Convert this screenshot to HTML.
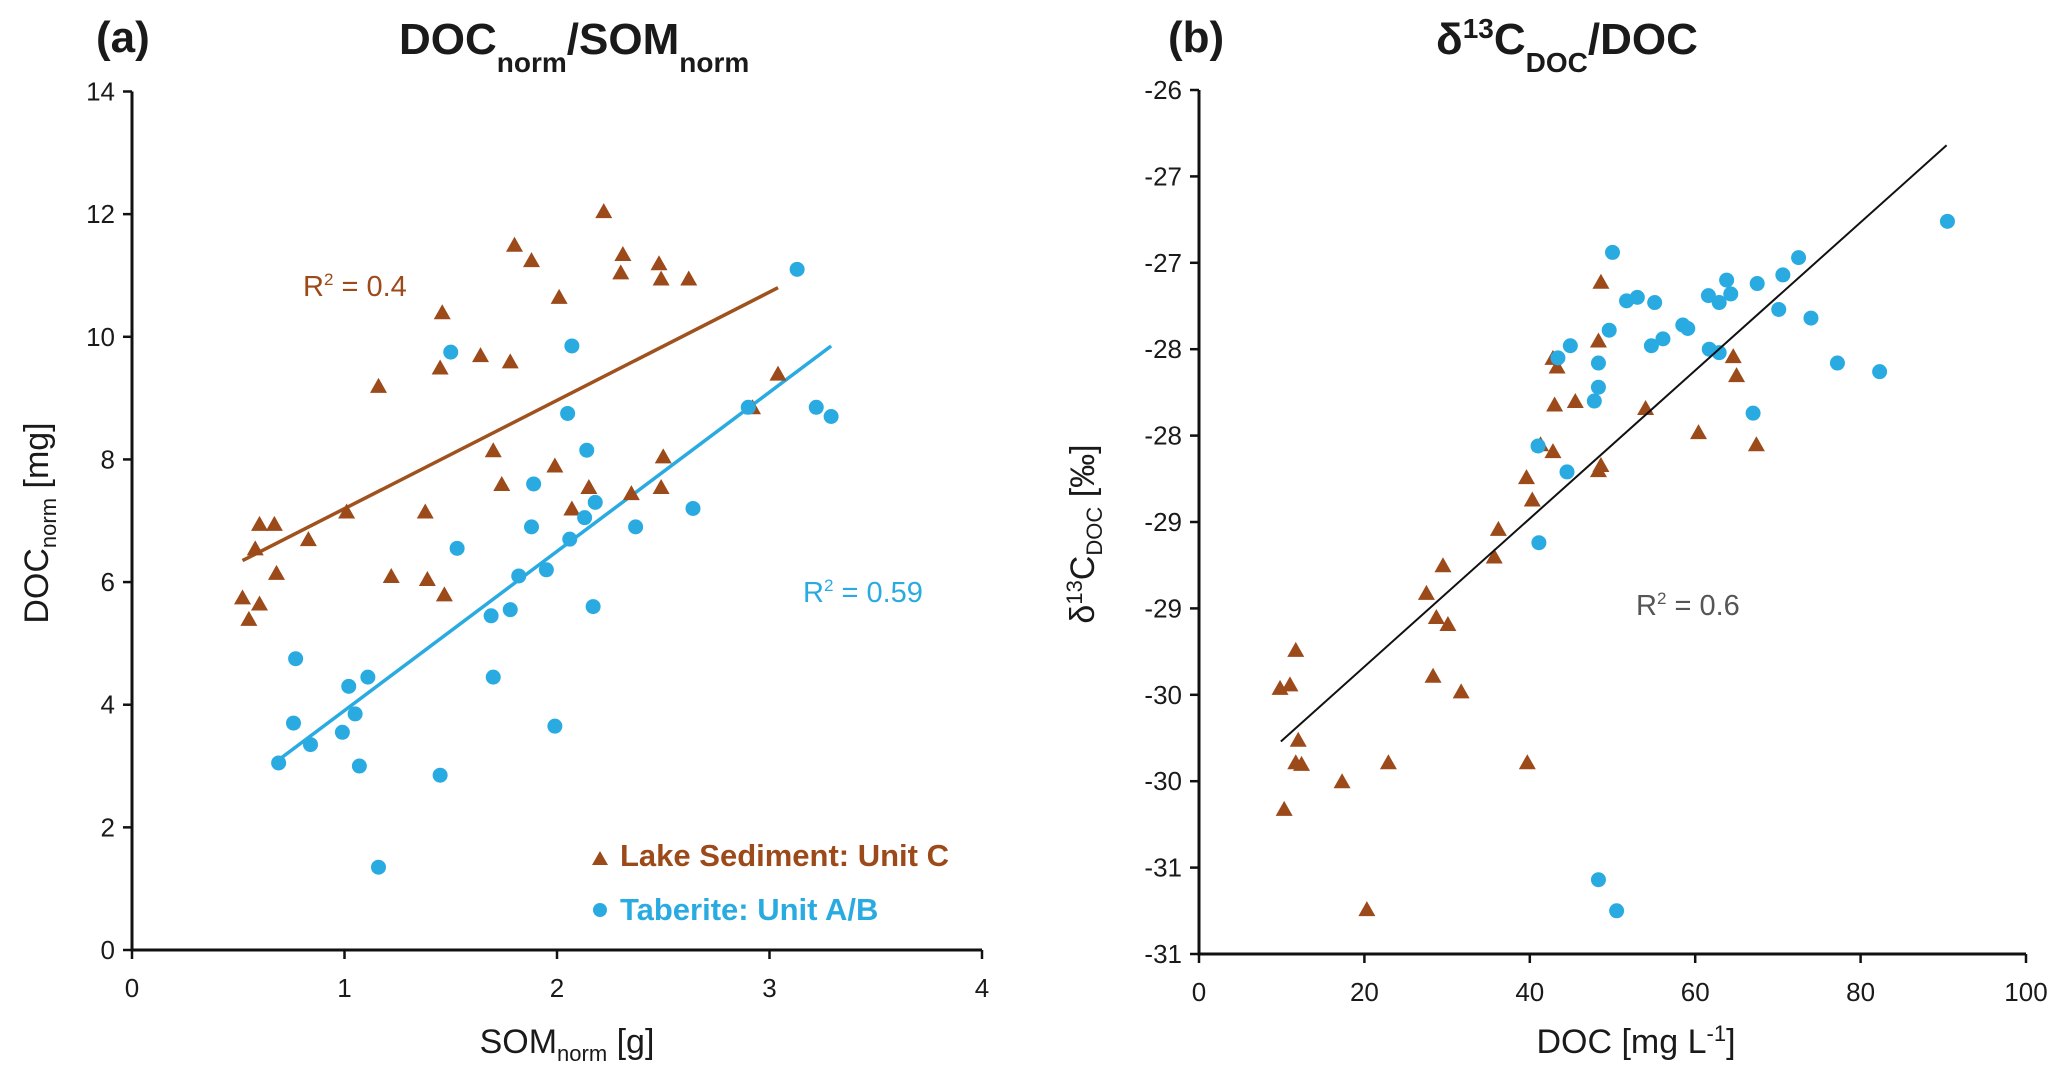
<!DOCTYPE html>
<html><head><meta charset="utf-8">
<style>
html,body{margin:0;padding:0;background:#fff;}
svg{display:block;font-family:"Liberation Sans","DejaVu Sans",sans-serif;}
</style></head>
<body>
<svg id="fig" width="2067" height="1080" viewBox="0 0 2067 1080">
  <text x="96" y="52" font-size="44" font-weight="bold" fill="#1a1a1a">(a)</text>
  <text x="399" y="54" font-size="44" font-weight="bold" fill="#1a1a1a">DOC<tspan font-size="28" dy="18">norm</tspan><tspan dy="-18">/SOM</tspan><tspan font-size="28" dy="18">norm</tspan></text>
  <text x="1168" y="52" font-size="44" font-weight="bold" fill="#1a1a1a">(b)</text>
  <text x="1436" y="54" font-size="44" font-weight="bold" fill="#1a1a1a">δ<tspan font-size="28" dy="-16">13</tspan><tspan dy="16">C</tspan><tspan font-size="28" dy="18">DOC</tspan><tspan dy="-18">/DOC</tspan></text>

  <text transform="translate(48,523) rotate(-90)" text-anchor="middle" font-size="34" fill="#1a1a1a">DOC<tspan font-size="22" dy="8">norm</tspan><tspan dy="-8"> [mg]</tspan></text>
  <text x="567" y="1053" text-anchor="middle" font-size="34" fill="#1a1a1a">SOM<tspan font-size="22" dy="8">norm</tspan><tspan dy="-8"> [g]</tspan></text>
  <text transform="translate(1094,534) rotate(-90)" text-anchor="middle" font-size="34" fill="#1a1a1a">δ<tspan font-size="22" dy="-12">13</tspan><tspan dy="12">C</tspan><tspan font-size="22" dy="8">DOC</tspan><tspan dy="-8"> [‰]</tspan></text>
  <text x="1636" y="1053" text-anchor="middle" font-size="34" fill="#1a1a1a">DOC [mg L<tspan font-size="22" dy="-12">-1</tspan><tspan dy="12">]</tspan></text>

  <text x="303" y="296" font-size="29" fill="#9c4a1a">R<tspan font-size="17" dy="-11">2</tspan><tspan dy="11"> = 0.4</tspan></text>
  <text x="803" y="602" font-size="29" fill="#29abe2">R<tspan font-size="17" dy="-11">2</tspan><tspan dy="11"> = 0.59</tspan></text>
  <text x="1636" y="615" font-size="29" fill="#555">R<tspan font-size="17" dy="-11">2</tspan><tspan dy="11"> = 0.6</tspan></text>

  <g>
    <polygon points="592,865 600,851 608,865" fill="#9c4a1a"/>
    <text x="620" y="866" font-size="31" font-weight="bold" fill="#9c4a1a">Lake Sediment: Unit C</text>
    <circle cx="600" cy="910" r="7" fill="#29abe2"/>
    <text x="620" y="920" font-size="31" font-weight="bold" fill="#29abe2">Taberite: Unit A/B</text>
  </g>
  <g id="pa"></g>
  <g id="pb"></g>
</svg>
<script>
// Panel A data
const aTicksX = [0,1,2,3,4];
const aTicksY = [0,2,4,6,8,10,12,14];
const aTriX = [0.52,0.55,0.58,0.6,0.6,0.67,0.68,0.83,1.01,1.16,1.22,1.38,1.39,1.45,1.46,1.47,1.64,1.7,1.74,1.78,1.8,1.88,1.99,2.01,2.07,2.15,2.22,2.3,2.31,2.35,2.48,2.49,2.49,2.5,2.62,2.92,3.04];
const aTriY = [5.75,5.4,6.55,6.95,5.65,6.95,6.15,6.7,7.15,9.2,6.1,7.15,6.05,9.5,10.4,5.8,9.7,8.15,7.6,9.6,11.5,11.25,7.9,10.65,7.2,7.55,12.05,11.05,11.35,7.45,11.2,10.95,7.55,8.05,10.95,8.85,9.4];
const aCirX = [0.69,0.76,0.77,0.84,0.99,1.02,1.05,1.07,1.11,1.16,1.45,1.5,1.53,1.69,1.7,1.78,1.82,1.88,1.89,1.95,1.99,2.05,2.06,2.07,2.13,2.14,2.17,2.18,2.37,2.64,2.9,3.13,3.22,3.29];
const aCirY = [3.05,3.7,4.75,3.35,3.55,4.3,3.85,3.0,4.45,1.35,2.85,9.75,6.55,5.45,4.45,5.55,6.1,6.9,7.6,6.2,3.65,8.75,6.7,9.85,7.05,8.15,5.6,7.3,6.9,7.2,8.85,11.1,8.85,8.7];
const aTrendTriX = [0.52,3.04];
const aTrendTriY = [6.35,10.8];
const aTrendCirX = [0.69,3.29];
const aTrendCirY = [3.1,9.85];
// Panel B data
const bTicksX = [0,20,40,60,80,100];
const bTicksY = [-26,-26.5,-27,-27.5,-28,-28.5,-29,-29.5,-30,-30.5,-31];
const bTickLabelsY = ["-26","-27","-27","-28","-28","-29","-29","-30","-30","-31","-31"];
const bTriX = [9.8,11.0,11.7,12.0,11.7,12.4,10.3,17.3,20.3,22.9,27.5,28.3,28.7,29.5,30.1,31.7,35.7,36.2,39.6,39.7,40.3,41.3,42.8,42.8,43.3,43.0,45.5,48.3,48.6,48.3,48.6,54.0,60.4,64.6,65.0,67.4];
const bTriY = [-29.46,-29.44,-29.24,-29.76,-29.89,-29.9,-30.16,-30.0,-30.74,-29.89,-28.91,-29.39,-29.05,-28.75,-29.09,-29.48,-28.7,-28.54,-28.24,-29.89,-28.37,-28.05,-28.09,-27.55,-27.6,-27.82,-27.8,-28.2,-28.17,-27.45,-27.11,-27.84,-27.98,-27.54,-27.65,-28.05];
const bCirX = [41.0,41.1,43.4,44.5,44.9,47.8,48.3,48.3,49.6,50.0,51.7,53.0,55.1,54.7,56.1,58.5,59.1,61.6,61.7,62.9,62.9,63.8,64.3,67.5,67.0,70.1,70.6,72.5,74.0,77.2,82.3,90.5,48.3,50.5];
const bCirY = [-28.06,-28.62,-27.55,-28.21,-27.48,-27.8,-27.58,-27.72,-27.39,-26.94,-27.22,-27.2,-27.23,-27.48,-27.44,-27.36,-27.38,-27.19,-27.5,-27.23,-27.52,-27.1,-27.18,-27.12,-27.87,-27.27,-27.07,-26.97,-27.32,-27.58,-27.63,-26.76,-30.57,-30.75];
const bTrendX = [9.9,90.4];
const bTrendY = [-29.77,-26.32];

const NS = "http://www.w3.org/2000/svg";
const BROWN = "#9c4a1a", BLUE = "#29abe2";
function mk(parent, tag, attrs) {
  const e = document.createElementNS(NS, tag);
  for (const k in attrs) e.setAttribute(k, attrs[k]);
  parent.appendChild(e);
  return e;
}
function panel(g, x0, x1, y0, y1, xmin, xmax, ymin, ymax, prefix) {
  const sx = v => x0 + (v - xmin) / (xmax - xmin) * (x1 - x0);
  const sy = v => y0 - (v - ymin) / (ymax - ymin) * (y0 - y1);
  const ax = mk(g, "path", {d: `M${x0},${y1} L${x0},${y0} L${x1},${y0}`, fill: "none", stroke: "#111", "stroke-width": 3});
  
  
  return {sx, sy};
}
function ticks(g, s, xs, ys, ylabels, x0, y0, prefix) {
  xs.forEach(v => {
    const t = mk(g, "line", {x1: s.sx(v), x2: s.sx(v), y1: y0, y2: y0 + 9, stroke: "#111", "stroke-width": 2.5});
    
    
    const l = mk(g, "text", {x: s.sx(v), y: y0 + 47, "text-anchor": "middle", "font-size": 26, fill: "#1a1a1a"});
    l.textContent = v;
    
    
  });
  ys.forEach((v, i) => {
    const t = mk(g, "line", {x1: x0 - 9, x2: x0, y1: s.sy(v), y2: s.sy(v), stroke: "#111", "stroke-width": 2.5});
    
    
    const l = mk(g, "text", {x: x0 - 17, y: s.sy(v) + 9, "text-anchor": "end", "font-size": 26, fill: "#1a1a1a"});
    l.textContent = ylabels ? ylabels[i] : v;
    
    
  });
}
function tri(g, s, xs, ys, prefix) {
  xs.forEach((v, i) => {
    const cx = s.sx(v), cy = s.sy(ys[i]);
    const p = mk(g, "polygon", {points: `${cx-8.5},${cy+7} ${cx},${cy-8} ${cx+8.5},${cy+7}`, fill: BROWN});
    
    
  });
}
function cir(g, s, xs, ys, prefix) {
  xs.forEach((v, i) => {
    const c = mk(g, "circle", {cx: s.sx(v), cy: s.sy(ys[i]), r: 7.5, fill: BLUE});
    
    
  });
}
function line(g, s, xs, ys, color, w, name) {
  const l = mk(g, "line", {x1: s.sx(xs[0]), y1: s.sy(ys[0]), x2: s.sx(xs[1]), y2: s.sy(ys[1]), stroke: color, "stroke-width": w});
  
  
}
// Panel A
const ga = document.getElementById("pa");


const sa = panel(ga, 132, 982, 950, 91.5, 0, 4, 0, 14, "panel-a");
ticks(ga, sa, aTicksX, aTicksY, null, 132, 950, "panel-a");
line(ga, sa, aTrendTriX, aTrendTriY, "#a0521e", 3.5, "lake-sediment-trendline");
line(ga, sa, aTrendCirX, aTrendCirY, BLUE, 3.5, "taberite-trendline");
tri(ga, sa, aTriX, aTriY, "panel-a");
cir(ga, sa, aCirX, aCirY, "panel-a");
// Panel B
const gb = document.getElementById("pb");


const sb = panel(gb, 1199, 2026, 954, 90, 0, 100, -31, -26, "panel-b");
ticks(gb, sb, bTicksX, bTicksY, bTickLabelsY, 1199, 954, "panel-b");
tri(gb, sb, bTriX, bTriY, "panel-b");
cir(gb, sb, bCirX, bCirY, "panel-b");
line(gb, sb, bTrendX, bTrendY, "#111", 2, "panel-b-trendline");
</script>
</body></html>
